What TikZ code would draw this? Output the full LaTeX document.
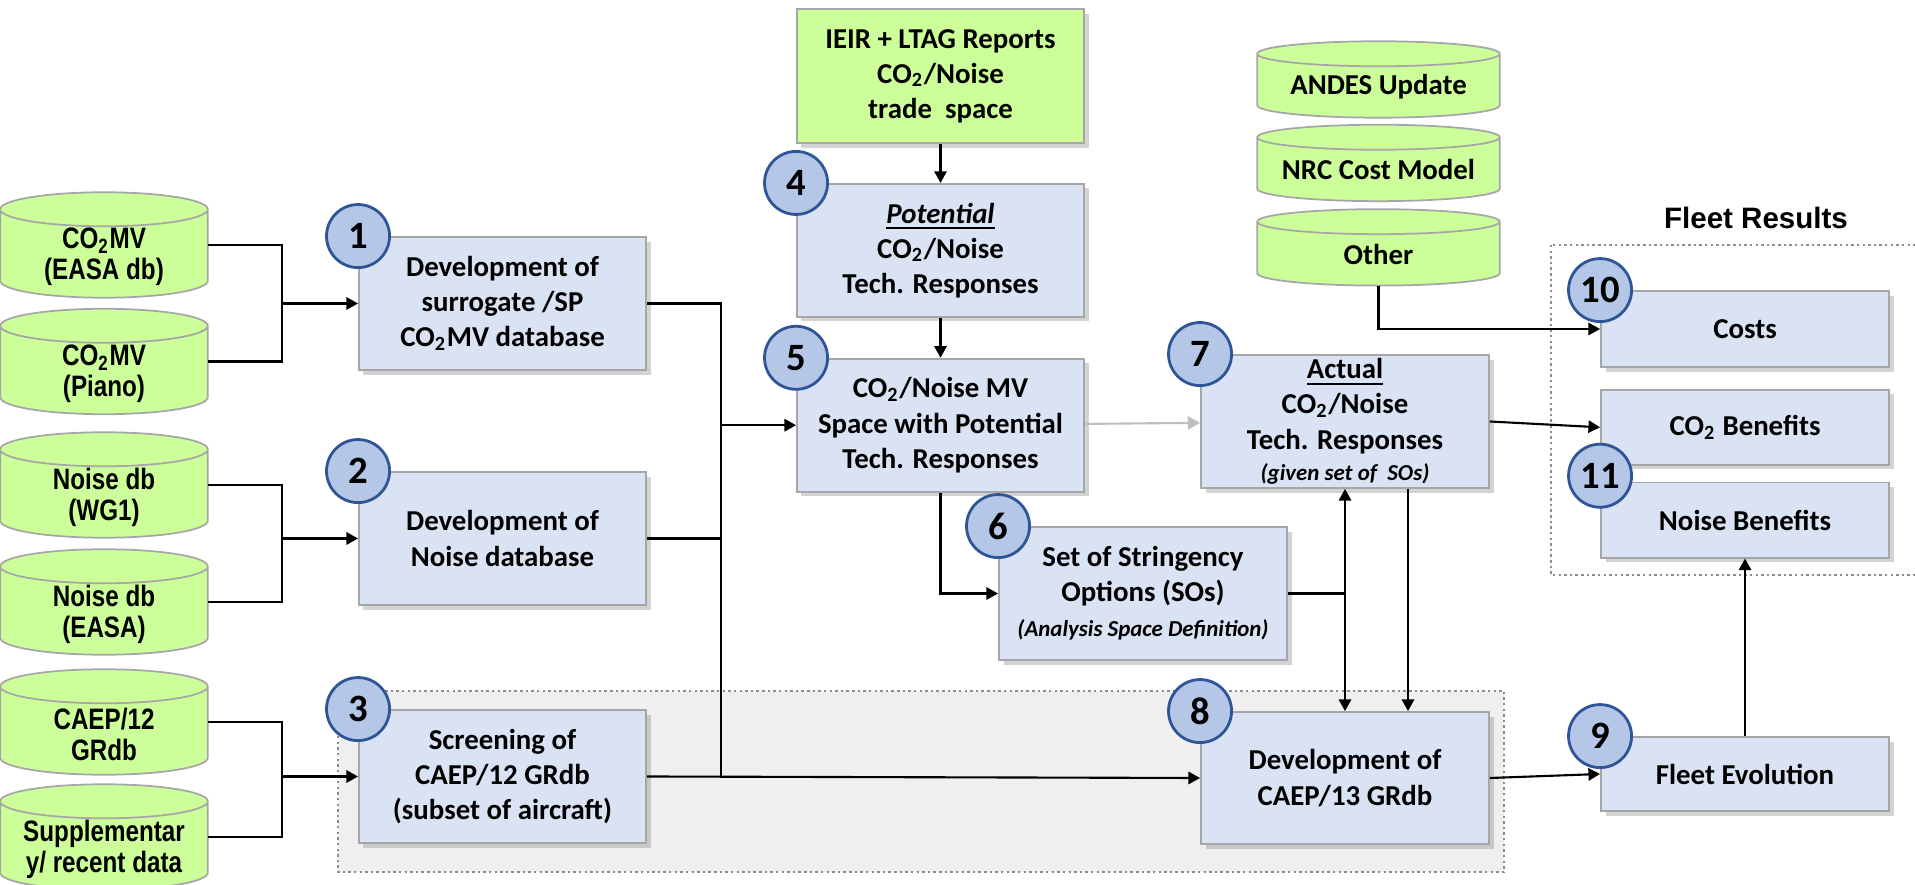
\documentclass[tikz,border=0pt]{standalone}
\usepackage{fontspec}
\setmainfont{Carlito}
\newfontfamily\narrowsans{Liberation Sans}[FakeStretch=0.82]
\newfontfamily\headsans{Liberation Sans}
\usetikzlibrary{arrows.meta,positioning,calc,shadows,backgrounds}

\definecolor{boxfill}{HTML}{DAE3F3}
\definecolor{boxline}{HTML}{A6A6A6}
\definecolor{numfill}{HTML}{B4C7E7}
\definecolor{numline}{HTML}{2F5597}
\definecolor{dbfill}{HTML}{CCFF99}
\definecolor{zonefill}{HTML}{EFEFEF}
\definecolor{zoneline}{HTML}{8C8C8C}
\definecolor{arrowgray}{HTML}{BFBFBF}

\newcommand\boxfont{\bfseries\fontsize{8.2}{10}\selectfont}
\newcommand\smallit{\itshape\fontsize{6.5}{8}\selectfont}
\newcommand\numfont{\bfseries\fontsize{11}{12}\selectfont}
\newcommand\dbfont{\narrowsans\bfseries\fontsize{8.4}{8.8}\selectfont}

\begin{document}
\begin{tikzpicture}[x=0.01cm, y=0.01cm,
  tb/.style={draw=boxline, line width=0.5pt, fill=boxfill, align=center, font=\boxfont, inner sep=1pt,
    minimum width=2.87cm, minimum height=1.33cm,
    drop shadow={shadow xshift=1.3pt, shadow yshift=-1.3pt, opacity=0.35}},
  nb/.style={circle, draw=numline, line width=0.8pt, fill=numfill, minimum size=0.63cm, inner sep=0pt, font=\numfont},
  db/.style={minimum width=2.06cm, minimum height=1.04cm, inner sep=0pt},
  dbt/.style={font=\dbfont, align=center, yshift=-0.12cm},
  dbr/.style={minimum width=2.41cm, minimum height=0.75cm, inner sep=0pt},
  dbrt/.style={font=\boxfont, align=center, yshift=-0.07cm},
  dbshape/.style={draw=boxline, line width=0.5pt, fill=dbfill},
  zone/.style={draw=zoneline, line width=0.7pt, dash pattern=on 0.7pt off 0.9pt},
  ln/.style={line width=0.6pt},
  arr/.style={ln, -{Triangle[length=3.3pt,width=3.5pt]}},
  arr2/.style={ln, {Triangle[length=3.3pt,width=3.5pt]}-{Triangle[length=3.3pt,width=3.5pt]}},
  arrg/.style={line width=0.6pt, draw=arrowgray, -{Triangle[length=3.5pt,width=3.8pt]}}
]
\useasboundingbox (0,0) rectangle (1915,885);

% data sources
\node[db, label={[dbt]center:{CO\textsubscript{2}MV\\(EASA db)}}] (c1) at (104,640) {};
\node[db, label={[dbt]center:{CO\textsubscript{2}MV\\(Piano)}}] (c2) at (104,523.5) {};
\node[db, label={[dbt]center:{Noise db\\(WG1)}}] (c3) at (104,400) {};
\node[db, label={[dbt]center:{Noise db\\(EASA)}}] (c4) at (104,283) {};
\node[db, label={[dbt]center:{CAEP/12\\GRdb}}] (c5) at (104,163) {};
\node[db, label={[dbt]center:{Supplementar\\y/ recent data}}] (c6) at (104,48) {};

\node[dbr, label={[dbrt]center:ANDES Update}] (ande) at (1378.5,805.5) {};
\node[dbr, below=0.07cm of ande, label={[dbrt]center:NRC Cost Model}] (nrc) {};
\node[dbr, below=0.08cm of nrc, label={[dbrt]center:Other}] (oth) {};

% process boxes
\node[tb] (b1) at (502.5,581.5) {Development of\\surrogate /SP\\CO\textsubscript{2}MV database};
\node[tb] (b2) at (502.5,346.5) {Development of\\Noise database};
\node[tb] (b3) at (502.5,108.5) {Screening of\\CAEP/12 GRdb\\(subset of aircraft)};

\node[tb, fill=dbfill, minimum height=1.34cm] (ieir) at (940.5,809) {IEIR + LTAG Reports\\CO\textsubscript{2}/Noise\\trade\ \ space};
\node[tb, below=0.39cm of ieir] (b4) {\textit{\underline{Potential}}\\CO\textsubscript{2}/Noise\\Tech. Responses};
\node[tb, below=0.40cm of b4] (b5) {CO\textsubscript{2}/Noise MV\\Space with Potential\\Tech. Responses};
\node[tb, minimum width=2.88cm] (b6) at (1143,291.5) {Set of Stringency\\Options (SOs)\\{\smallit (Analysis Space Definition)}};
\node[tb, minimum width=2.88cm] (b7) at (1345,463.5) {\underline{Actual}\\CO\textsubscript{2}/Noise\\Tech. Responses\\[-1pt]{\smallit (given set of\ \ SOs)}};
\node[tb, minimum width=2.88cm, minimum height=1.32cm] (b8) at (1345,107) {Development of\\CAEP/13 GRdb};

\node[tb, minimum width=2.88cm, minimum height=0.74cm] (b9) at (1745,111) {Fleet Evolution};
\node[tb, minimum width=2.88cm, minimum height=0.76cm] (b10) at (1745,556) {Costs};
\node[tb, minimum width=2.88cm, minimum height=0.75cm, below=0.21cm of b10] (co2) {CO\textsubscript{2} Benefits};
\node[tb, minimum width=2.88cm, minimum height=0.75cm, below=0.16cm of co2] (noi) {Noise Benefits};

\node[font=\headsans\bfseries\fontsize{8.4}{10}\selectfont] (fres) at (1756,667) {Fleet Results};

% step numbers
\node[nb] (n1) at (b1.north west) {1};
\node[nb] (n2) at (b2.north west) {2};
\node[nb] (n3) at (b3.north west) {3};
\node[nb] (n4) at (b4.north west) {4};
\node[nb] (n5) at (b5.north west) {5};
\node[nb] (n6) at (b6.north west) {6};
\node[nb] (n7) at (b7.north west) {7};
\node[nb] (n8) at (b8.north west) {8};
\node[nb] (n9) at (b9.north west) {9};
\node[nb] (n10) at (b10.north west) {10};
\node[nb] (n11) at ($(noi.north west)+(0,6)$) {11};

% junctions
\coordinate (j1) at ($(b1.west)+(-76,0)$);
\coordinate (j2) at ($(b2.west)+(-76,0)$);
\coordinate (j3) at ($(b3.west)+(-76,0)$);
\coordinate (jm) at ($(b5.west)+(-75,0)$);

\draw[ln] (c1.east) -| (j1) |- (c2.east);
\draw[arr] (j1) -- (b1.west);
\draw[ln] (c3.east) -| (j2) |- (c4.east);
\draw[arr] (j2) -- (b2.west);
\draw[ln] (c5.east) -| (j3) |- (c6.east);
\draw[arr] (j3) -- (b3.west);

\draw[ln] (b1.east) -| (b3.east -| jm);
\draw[ln] (b2.east) -- (b2.east -| jm);
\draw[arr] (jm) -- (b5.west);
\draw[arr] (b3.east) -- (b8.west);

\draw[arr] (ieir) -- (b4);
\draw[arr] (b4) -- (b5);
\draw[arrg] (b5) -- (b7);
\draw[arr] (b5.south) |- (b6.west);
\draw[ln] (b6.east) -- (b6.east -| b7.south);
\draw[arr2] (b7.south) -- (b8.north);
\draw[arr] ($(b7.south)+(63,0)$) -- ($(b8.north)+(63,0)$);
\draw[arr] (b7.east) -- (co2.west);
\draw[arr] (oth.south) |- (b10.west);
\draw[arr] (b8.east) -- (b9.west);
\draw[arr] (b9) -- (noi);

\begin{scope}[on background layer]
  \path[zone, fill=zonefill] (338,194) rectangle (1504,13);
  \draw[zone] (1551,640) rectangle (1935,310);
  \foreach \cy/\ry in {c1/0.17cm,c2/0.17cm,c3/0.17cm,c4/0.17cm,c5/0.17cm,c6/0.17cm,ande/0.125cm,nrc/0.125cm,oth/0.125cm}
    \path[dbshape] let \p1=(\cy.north west), \p2=(\cy.south east), \p3=($(\cy.east)-(\cy.west)$) in
      (\x1,\y1-\ry) -- (\x1,\y2+\ry) arc[start angle=180, end angle=360, x radius=0.5*\x3, y radius=\ry]
      -- (\x2,\y1-\ry) arc[start angle=0, end angle=180, x radius=0.5*\x3, y radius=\ry] -- cycle
      (\x1,\y1-\ry) arc[start angle=180, end angle=360, x radius=0.5*\x3, y radius=\ry];
\end{scope}
\end{tikzpicture}
\end{document}
